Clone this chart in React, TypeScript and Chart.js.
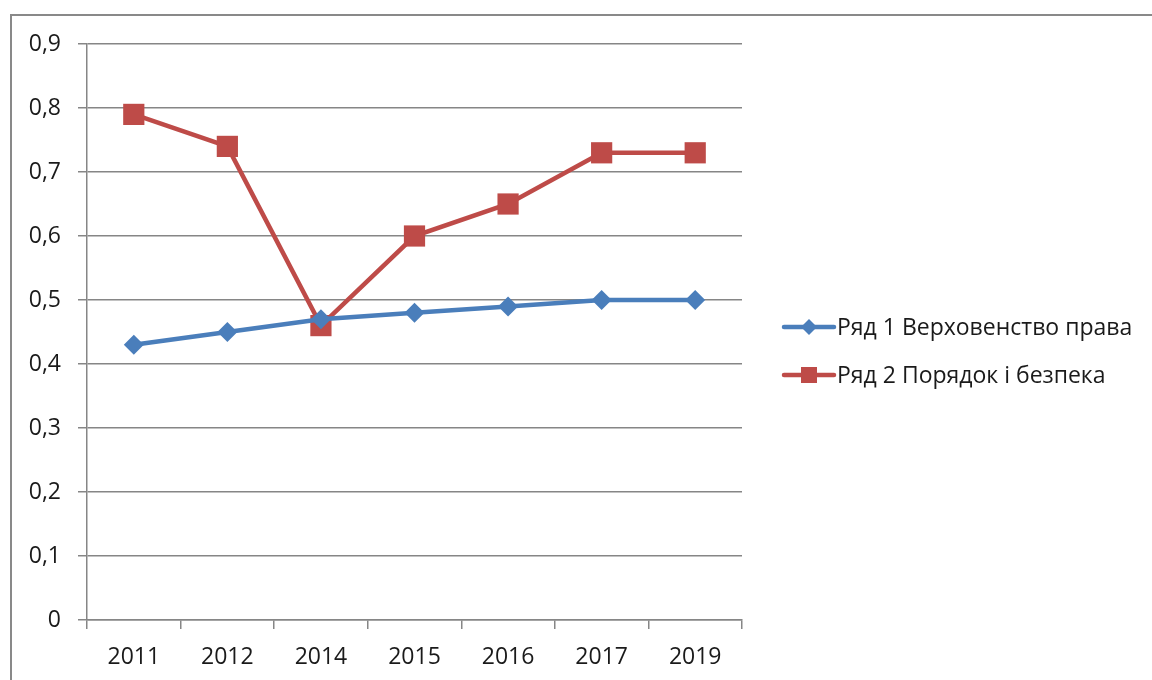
import React, { useEffect, useRef } from "react";
import { Chart, registerables } from "chart.js";

Chart.register(...registerables);

const categories = ["2011", "2012", "2014", "2015", "2016", "2017", "2019"];
const seriesNames = ["Ряд 1 Верховенство права", "Ряд 2 Порядок і безпека"];
const ruleOfLaw = [0.43, 0.45, 0.47, 0.48, 0.49, 0.5, 0.5];
const orderSecurity = [0.79, 0.74, 0.46, 0.6, 0.65, 0.73, 0.73];
const yTicks = [0, 0.1, 0.2, 0.3, 0.4, 0.5, 0.6, 0.7, 0.8, 0.9];

const BLUE = "#4A7EBB";
const RED = "#BE4B48";
const FONT = "'Open Sans', 'Liberation Sans', sans-serif";

export default function App() {
  const ref = useRef<HTMLCanvasElement | null>(null);

  useEffect(() => {
    document.body.style.margin = "0";
    const canvas = ref.current;
    if (!canvas) return;

    const framePlugin = {
      id: "frame",
      beforeDraw(chart: any) {
        const ctx = chart.ctx;
        ctx.save();
        ctx.fillStyle = "#ffffff";
        ctx.fillRect(0, 0, chart.width, chart.height);
        ctx.strokeStyle = "#898989";
        ctx.lineWidth = 2;
        ctx.beginPath();
        ctx.moveTo(11, chart.height + 5);
        ctx.lineTo(11, 15);
        ctx.lineTo(chart.width + 5, 15);
        ctx.stroke();
        ctx.restore();
      },
    };

    const legendPlugin = {
      id: "customLegend",
      afterDraw(chart: any) {
        const ctx = chart.ctx;
        ctx.save();
        const items = [
          { color: BLUE, style: "diamond", y: 327 },
          { color: RED, style: "square", y: 375 },
        ];
        items.forEach((it, i) => {
          ctx.strokeStyle = it.color;
          ctx.lineWidth = 4.5;
          ctx.lineCap = "round";
          ctx.beginPath();
          ctx.moveTo(784, it.y);
          ctx.lineTo(834, it.y);
          ctx.stroke();
          ctx.fillStyle = it.color;
          const cx = 809;
          if (it.style === "diamond") {
            ctx.beginPath();
            ctx.moveTo(cx, it.y - 8);
            ctx.lineTo(cx + 8, it.y);
            ctx.lineTo(cx, it.y + 8);
            ctx.lineTo(cx - 8, it.y);
            ctx.closePath();
            ctx.fill();
          } else {
            ctx.fillRect(cx - 8, it.y - 8, 16, 16);
          }
          ctx.fillStyle = "#1a1a1a";
          ctx.font = `23px ${FONT}`;
          ctx.textBaseline = "middle";
          ctx.textAlign = "left";
          ctx.fillText(seriesNames[i], 837, it.y + 1);
        });
        ctx.restore();
      },
    };

    const chart = new Chart(canvas, {
      type: "line",
      data: {
        labels: categories,
        datasets: [
          {
            label: seriesNames[0],
            data: ruleOfLaw,
            borderColor: BLUE,
            backgroundColor: BLUE,
            borderWidth: 4.5,
            pointStyle: "rectRot",
            pointRadius: 10,
            pointBorderWidth: 0,
            tension: 0,
          },
          {
            label: seriesNames[1],
            data: orderSecurity,
            borderColor: RED,
            backgroundColor: RED,
            borderWidth: 4.5,
            pointStyle: "rect",
            pointRadius: 15,
            pointBorderWidth: 0,
            tension: 0,
          },
        ],
      },
      options: {
        responsive: false,
        animation: false,
        layout: { padding: { left: 0, top: 44, right: 410, bottom: 0 } },
        plugins: {
          legend: { display: false },
          tooltip: { enabled: false },
        },
        scales: {
          x: {
            offset: true,
            grid: {
              offset: true,
              drawOnChartArea: false,
              drawTicks: true,
              tickLength: 9,
              color: "#868686",
              lineWidth: 1.5,
            },
            border: { color: "#868686", width: 1.5 },
            ticks: {
              color: "#1a1a1a",
              font: { family: FONT, size: 23 },
              padding: 15,
              maxRotation: 0,
            },
            afterFit(scale: any) {
              scale.height = 60;
            },
          },
          y: {
            min: 0,
            max: 0.9,
            afterBuildTicks(scale: any) {
              scale.ticks = yTicks.map((v) => ({ value: v }));
            },
            grid: {
              color: "#868686",
              lineWidth: 1.5,
              tickLength: 9,
            },
            border: { color: "#868686", width: 1.5 },
            ticks: {
              color: "#1a1a1a",
              font: { family: FONT, size: 23 },
              padding: 17,
              callback: (v: any) => (v === 0 ? "0" : Number(v).toFixed(1).replace(".", ",")),
            },
            afterFit(scale: any) {
              scale.width = 87;
            },
          },
        },
      },
      plugins: [framePlugin, legendPlugin],
    });

    return () => chart.destroy();
  }, []);

  return (
    <div style={{ position: "fixed", left: 0, top: 0, width: 1152, height: 680 }}>
      <canvas ref={ref} width={1152} height={680} />
    </div>
  );
}
